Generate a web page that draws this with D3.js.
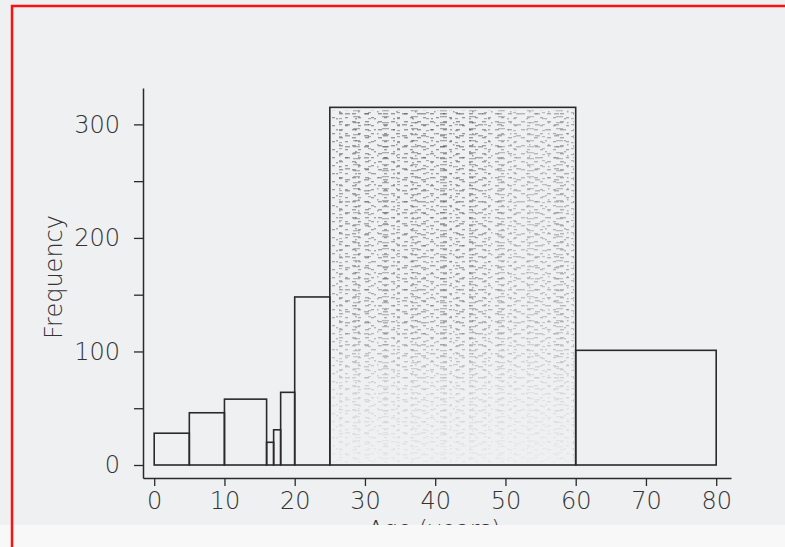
<!DOCTYPE html>
<html>
<head>
<meta charset="utf-8">
<script src="https://cdn.jsdelivr.net/npm/d3@7"></script>
<style>
  html, body { margin: 0; padding: 0; background: #ffffff; }
  svg { display: block; }
  .tick text { font-family: "DejaVu Sans", sans-serif; font-weight: 200; }
</style>
</head>
<body>
<div id="Chart"></div>
<script>
// histogram bins (age in years) and counts
var binEdges = [0, 5, 10, 16, 17, 18, 20, 25, 60, 80];
var counts = [28, 46, 58, 20, 31, 64, 148, 315, 101];
var xTicks = [0, 10, 20, 30, 40, 50, 60, 70, 80];
var yTicks = [0, 50, 100, 150, 200, 250, 300];
var yLabels = [0, 100, 200, 300];

var svgWidth = 785;
var svgHeight = 547;

// plot region, axes sit on its edges
var plot = { left: 143, right: 731, top: 88, bottom: 478 };

var bins = counts.map(function (c, i) {
  return { x0: binEdges[i], x1: binEdges[i + 1], n: c };
});

var svg = d3.select("#Chart")
  .append("svg")
  .attr("width", svgWidth)
  .attr("height", svgHeight);

var defs = svg.append("defs");

defs.append("clipPath")
  .attr("id", "scanClip")
  .append("rect")
  .attr("x", 0).attr("y", 0)
  .attr("width", svgWidth).attr("height", 525);

// speckle texture like the scanned shading (three tiles of different size so it looks less regular)
var speck = [
  { id: "sp1", w: 13, h: 8, marks: [[1, 1, 4, 1.4], [7, 5, 3, 1.3]] },
  { id: "sp2", w: 19, h: 11, marks: [[3, 3, 5, 1.5], [13, 8, 2, 1.4], [16, 1, 1.5, 1.5]] },
  { id: "sp3", w: 29, h: 6, marks: [[5, 2, 7, 1.3], [20, 4, 3, 1.2]] }
];
speck.forEach(function (s) {
  var p = defs.append("pattern")
    .attr("id", s.id)
    .attr("patternUnits", "userSpaceOnUse")
    .attr("width", s.w)
    .attr("height", s.h);
  s.marks.forEach(function (m) {
    p.append("rect")
      .attr("x", m[0]).attr("y", m[1])
      .attr("width", m[2]).attr("height", m[3])
      .attr("fill", "#1e1e1e");
  });
});

var fade = defs.append("linearGradient")
  .attr("id", "fade")
  .attr("x1", 0).attr("y1", 0).attr("x2", 0).attr("y2", 1);
fade.append("stop").attr("offset", "0%").attr("stop-color", "#eff0f2").attr("stop-opacity", 0.15);
fade.append("stop").attr("offset", "60%").attr("stop-color", "#eff0f2").attr("stop-opacity", 0.35);
fade.append("stop").attr("offset", "80%").attr("stop-color", "#eff0f2").attr("stop-opacity", 0.75);
fade.append("stop").attr("offset", "100%").attr("stop-color", "#eff0f2").attr("stop-opacity", 0.92);

var fadeX = defs.append("linearGradient")
  .attr("id", "fadeX")
  .attr("x1", 0).attr("y1", 0).attr("x2", 1).attr("y2", 0);
fadeX.append("stop").attr("offset", "0%").attr("stop-color", "#eff0f2").attr("stop-opacity", 0.1);
fadeX.append("stop").attr("offset", "55%").attr("stop-color", "#eff0f2").attr("stop-opacity", 0.05);
fadeX.append("stop").attr("offset", "80%").attr("stop-color", "#eff0f2").attr("stop-opacity", 0.4);
fadeX.append("stop").attr("offset", "100%").attr("stop-color", "#eff0f2").attr("stop-opacity", 0.2);

// lighter strip below the end of the scan
svg.append("rect")
  .attr("width", svgWidth).attr("height", svgHeight)
  .attr("fill", "#f8f8f8");

var chartGroup = svg.append("g")
  .attr("clip-path", "url(#scanClip)");

chartGroup.append("rect")
  .attr("width", svgWidth).attr("height", svgHeight)
  .attr("fill", "#eff0f2");

// scales
var xPerUnit = 7.025;
var xScale = d3.scaleLinear()
  .domain([-(154.2 - plot.left) / xPerUnit, 80 + (plot.right - 716.2) / xPerUnit])
  .range([plot.left, plot.right]);

var yPerUnit = 1.1354;
var yScale = d3.scaleLinear()
  .domain([-(plot.bottom - 465) / yPerUnit, (465 - plot.top) / yPerUnit])
  .range([plot.bottom, plot.top]);

// bars
var barG = chartGroup.append("g");

// texture only in the tall 25-60 bar
var tall = bins.filter(d => d.n === d3.max(counts));
var inner = function (sel) {
  sel.attr("x", d => xScale(d.x0) + 2)
    .attr("y", d => yScale(d.n) + 3)
    .attr("width", d => xScale(d.x1) - xScale(d.x0) - 4)
    .attr("height", d => yScale(0) - yScale(d.n) - 5);
};
speck.forEach(function (s, i) {
  barG.selectAll("rect.tex" + i)
    .data(tall)
    .enter()
    .append("rect")
    .attr("class", "tex" + i)
    .call(inner)
    .attr("fill", `url(#${s.id})`)
    .attr("opacity", [0.55, 0.5, 0.45][i]);
});
barG.selectAll("rect.fadex")
  .data(tall)
  .enter()
  .append("rect")
  .attr("class", "fadex")
  .call(inner)
  .attr("fill", "url(#fadeX)");
barG.selectAll("rect.fade")
  .data(tall)
  .enter()
  .append("rect")
  .attr("class", "fade")
  .call(inner)
  .attr("fill", "url(#fade)");

barG.selectAll("rect.bar")
  .data(bins)
  .enter()
  .append("rect")
  .attr("class", "bar")
  .attr("x", d => xScale(d.x0))
  .attr("y", d => yScale(d.n))
  .attr("width", d => xScale(d.x1) - xScale(d.x0))
  .attr("height", d => yScale(0) - yScale(d.n))
  .attr("fill", "none")
  .attr("stroke", "#2a2a2a")
  .attr("stroke-width", 1.6);

// axes
var bottomAxis = d3.axisBottom(xScale)
  .tickValues(xTicks)
  .tickSizeInner(8)
  .tickSizeOuter(0)
  .tickPadding(6);

var leftAxis = d3.axisLeft(yScale)
  .tickValues(yTicks)
  .tickFormat(d => yLabels.indexOf(d) >= 0 ? d : "")
  .tickSizeInner(9)
  .tickSizeOuter(0)
  .tickPadding(14);

var xAxisG = chartGroup.append("g")
  .attr("transform", `translate(0, ${plot.bottom})`)
  .call(bottomAxis);

var yAxisG = chartGroup.append("g")
  .attr("transform", `translate(${plot.left}, 0)`)
  .call(leftAxis);

[xAxisG, yAxisG].forEach(function (g) {
  g.select(".domain").attr("stroke", "#2a2a2a").attr("stroke-width", 1.5);
  g.selectAll(".tick line").attr("stroke", "#2a2a2a").attr("stroke-width", 1.3);
  g.selectAll(".tick text")
    .attr("fill", "#333333")
    .style("font-size", "24px");
});

// axis titles
chartGroup.append("text")
  .attr("transform", "translate(62, 277) rotate(-90)")
  .attr("text-anchor", "middle")
  .style("font-family", "DejaVu Sans, sans-serif")
  .style("font-weight", 200)
  .style("font-size", "24px")
  .attr("fill", "#333333")
  .text("Frequency");

chartGroup.append("text")
  .attr("x", 434)
  .attr("y", 537)
  .attr("text-anchor", "middle")
  .style("font-family", "DejaVu Sans, sans-serif")
  .style("font-weight", 200)
  .style("font-size", "23px")
  .attr("fill", "#333333")
  .text("Age (years)");

// red frame round the scan
svg.append("rect")
  .attr("x", 12)
  .attr("y", 6)
  .attr("width", svgWidth + 20)
  .attr("height", svgHeight + 20)
  .attr("fill", "none")
  .attr("stroke", "#ff1010")
  .attr("stroke-width", 2.5);
</script>
</body>
</html>
